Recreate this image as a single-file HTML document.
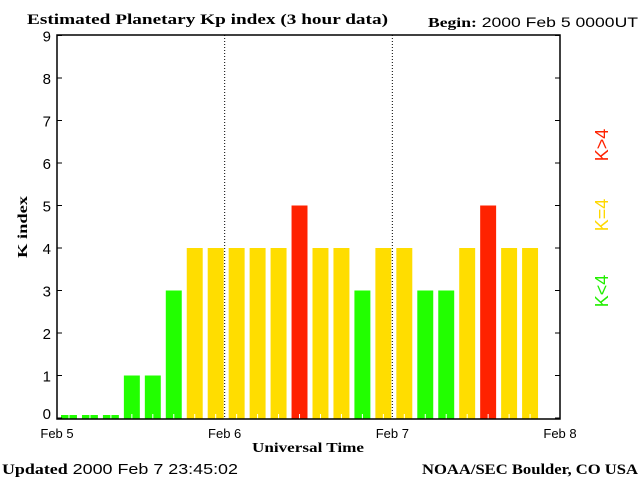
<!DOCTYPE html>
<html><head><meta charset="utf-8"><style>
body{margin:0;background:#fff}
svg text{font-family:"Liberation Sans",sans-serif}
.s{font-family:"Liberation Serif",serif;font-weight:bold}
</style></head><body>
<svg id="c" width="640" height="480" xmlns="http://www.w3.org/2000/svg">
<text class="s" x="27" y="24" font-size="15" textLength="361" lengthAdjust="spacingAndGlyphs">Estimated Planetary Kp index (3 hour data)</text>
<text x="428" y="27" font-size="14" textLength="210" lengthAdjust="spacingAndGlyphs"><tspan class="s">Begin:</tspan>  2000 Feb 5 0000UT</text>
<text class="s" transform="translate(27,227) rotate(-90)" text-anchor="middle" font-size="14" textLength="62" lengthAdjust="spacingAndGlyphs">K index</text>
<text class="s" x="308" y="452" text-anchor="middle" font-size="14" textLength="112" lengthAdjust="spacingAndGlyphs">Universal Time</text>
<text x="2" y="474" font-size="15" textLength="236" lengthAdjust="spacingAndGlyphs"><tspan class="s">Updated</tspan> 2000 Feb  7 23:45:02</text>
<text class="s" x="422" y="474" font-size="15" textLength="216" lengthAdjust="spacingAndGlyphs">NOAA/SEC Boulder, CO USA</text>
<text transform="translate(608,291) rotate(-90)" text-anchor="middle" font-size="18" fill="#22ee00">K&lt;4</text>
<text transform="translate(608,215) rotate(-90)" text-anchor="middle" font-size="18" fill="#ffd800">K=4</text>
<text transform="translate(608,145) rotate(-90)" text-anchor="middle" font-size="18" fill="#ff2200">K&gt;4</text>
<g id="bars"></g>
<g id="axes"></g>
</svg>
<script>
const kpValues=[0,0,0,1,1,3,4,4,4,4,4,5,4,4,3,4,4,3,3,4,5,4,4];
const yTicks=[0,1,2,3,4,5,6,7,8,9];
const dayLabels=["Feb 5","Feb 6","Feb 7","Feb 8"];
const L=57,R=560,T=35,B=419,Y0=418,U=42.5;
const ns="http://www.w3.org/2000/svg";
const slot=(R-L)/24;
function xs(i){return L+i*slot;}
function ys(v){return Y0-v*U;}
function mk(t,a,p){const e=document.createElementNS(ns,t);for(const k in a)e.setAttribute(k,a[k]);p.appendChild(e);return e;}
const bars=document.getElementById('bars'),axes=document.getElementById('axes');
kpValues.forEach((v,i)=>{
 const col=v<4?'#22ff00':(v==4?'#ffdd00':'#ff2200');
 const x=xs(i)+4,w=slot-5;
 const top=v==0?ys(0)-3:ys(v);
 const r=mk('rect',{x:x,y:top,width:w,height:B-top,fill:col},bars);
 
 
 const t=mk('line',{x1:x+w/2,x2:x+w/2,y1:B-5,y2:B,stroke:'#fff'},bars);
 
 
});
[1,2].forEach(d=>{const l=mk('line',{x1:L+d*8*slot,x2:L+d*8*slot,y1:T,y2:B,stroke:'#000','stroke-dasharray':'1,2'},axes);

});
const fr=mk('rect',{x:L,y:T,width:R-L,height:B-T,fill:'none',stroke:'#000','stroke-width':1.5},axes);


yTicks.forEach(v=>{
 const y=ys(v);
 mk('line',{x1:L,x2:L+5,y1:y,y2:y,stroke:'#000'},axes);
 mk('line',{x1:R-5,x2:R,y1:y,y2:y,stroke:'#000'},axes);
 const t=mk('text',{x:L-6,y:Math.min(y+6,419),'text-anchor':'end','font-size':15},axes);
 t.textContent=v;
 
 
});
dayLabels.forEach((d,i)=>{
 const t=mk('text',{x:L+i*8*slot,y:438,'text-anchor':'middle','font-size':13},axes);
 t.textContent=d;
 
 
});
</script>
</body></html>
